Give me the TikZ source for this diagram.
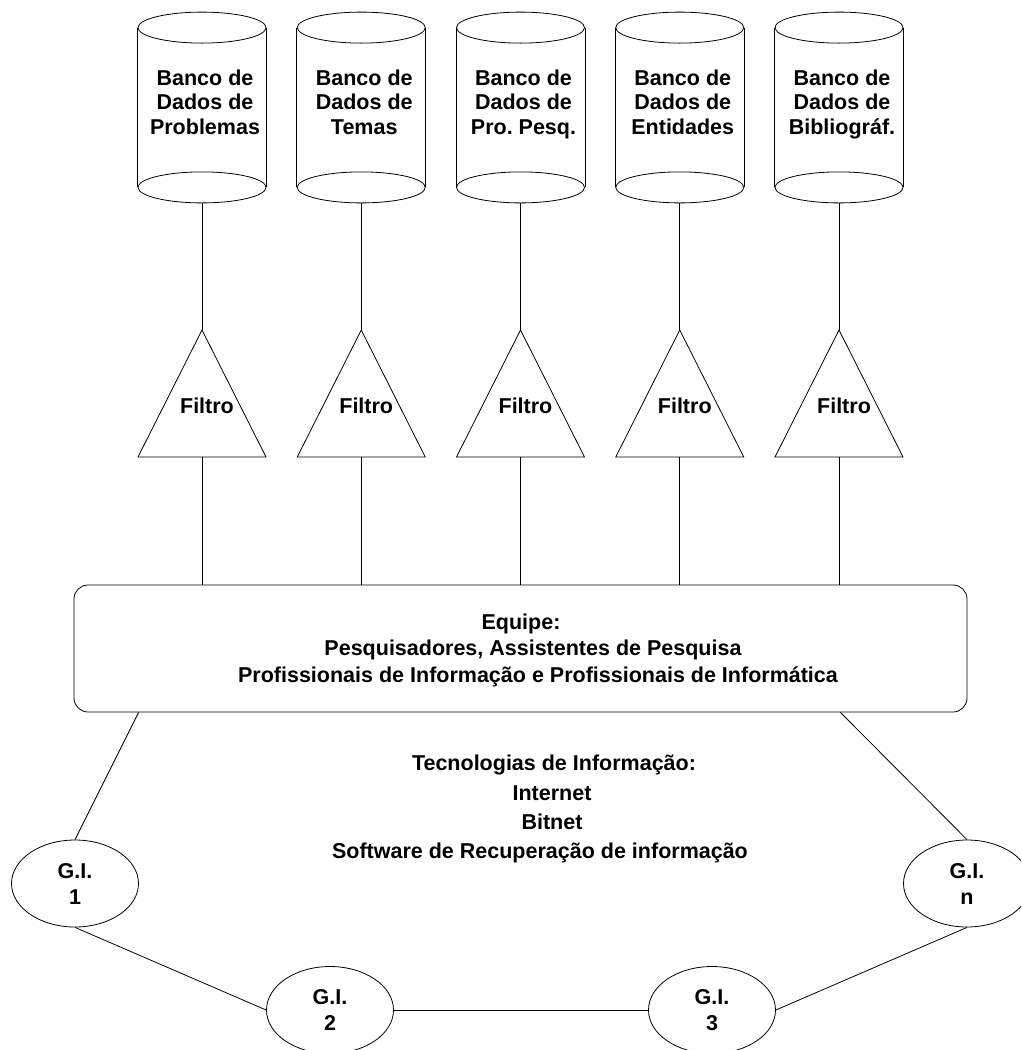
\documentclass[tikz,border=0pt]{standalone}
\usepackage{fontspec}
\setmainfont{Liberation Sans}
\usetikzlibrary{shapes.geometric}
\newcommand\topst{\vphantom{Á}}
\newcommand\botst{\vphantom{g}}
\frenchspacing
\begin{document}
\begin{tikzpicture}[x=1pt,y=-1pt,line width=0.8pt,
  every node/.style={font=\fontsize{21.5}{24.75}\selectfont\bfseries,inner sep=0pt},
  dbbody/.style={minimum width=128pt,minimum height=159pt},
  dbtext/.style={align=center},
  teambox/.style={draw,rounded corners=14pt,minimum width=893pt,minimum height=127pt},
  gi/.style={draw,ellipse,minimum width=127pt,minimum height=87pt,align=center,
    font=\fontsize{21.5}{26}\selectfont\bfseries},
  line/.style={line width=0.8pt}]
\useasboundingbox (0,0) rectangle (1021,1050);
\fill[white] (0,0) rectangle (1021,1050);
\clip (0,0) rectangle (1021,1050);

% team box
\node[teambox] (team) at (520.5,648.5) {};
\node[anchor=base] (eq1) at (521,629) {Equipe:};
\node[anchor=base] (eq2) at (533,655) {Pesquisadores, Assistentes de Pesquisa};
\node[anchor=base] (eq3) at (538,682) {Profissionais de Informação e Profissionais de Informática};

% databases and filters
\foreach \i/\t in {1/{\topst Banco de\\Dados de\\Problemas\botst},2/{\topst Banco de\\Dados de\\Temas\botst},3/{\topst Banco de\\Dados de\\Pro.\ Pesq.\botst},4/{\topst Banco de\\Dados de\\Entidades\botst},5/{\topst Banco de\\Dados de\\Bibliográf.\botst}}{
  \pgfmathsetmacro\cx{202+159.25*(\i-1)}
  \node[dbbody] (db\i) at (\cx,107.5) {};
  \draw[line] (db\i.north west) -- (db\i.south west) (db\i.north east) -- (db\i.south east);
  \draw[line] (db\i.north) ellipse [x radius=64pt,y radius=15.5pt];
  \draw[line] (db\i.south) ellipse [x radius=64pt,y radius=15.5pt];
  \node[dbtext] (dbt\i) at (\cx+3,102.6) {\t};
  \coordinate (dbb\i) at ([yshift=-15.5pt]db\i.south);
  \coordinate (fa\i) at (\cx,330);
  \coordinate (fl\i) at (\cx-64,457);
  \coordinate (fr\i) at (\cx+64,457);
  \coordinate (fb\i) at (\cx,457);
  \draw[line] (fa\i) -- (fl\i) -- (fr\i) -- cycle;
  \node (f\i) at (\cx+5,406.3) {Filtro};
  \draw[line] (dbb\i) -- (fa\i);
  \draw[line] (fb\i) -- (fb\i |- team.north);
}

% technologies text
\node[anchor=base] (tec1) at (554,770) {Tecnologias de Informação:};
\node[anchor=base] (tec2) at (552,800) {Internet};
\node[anchor=base] (tec3) at (552,829) {Bitnet};
\node[anchor=base] (tec4) at (540,858) {Software de Recuperação de informação};

% groups
\node[gi] (g1) at (75,883.5) {G.I.\\1};
\node[gi] (g2) at (330,1010) {G.I.\\2};
\node[gi] (g3) at (712,1010) {G.I.\\3};
\node[gi] (gn) at (967,883.5) {G.I.\\n};

\coordinate (tl) at ([xshift=65pt]team.south west);
\coordinate (tr) at ([xshift=-127pt]team.south east);
\draw[line] (tl) -- (g1.north);
\draw[line] (tr) -- (gn.north);
\draw[line] (g1.south) -- (g2.west);
\draw[line] (g2.east) -- (g3.west);
\draw[line] (g3.east) -- (gn.south);
\end{tikzpicture}
\end{document}
